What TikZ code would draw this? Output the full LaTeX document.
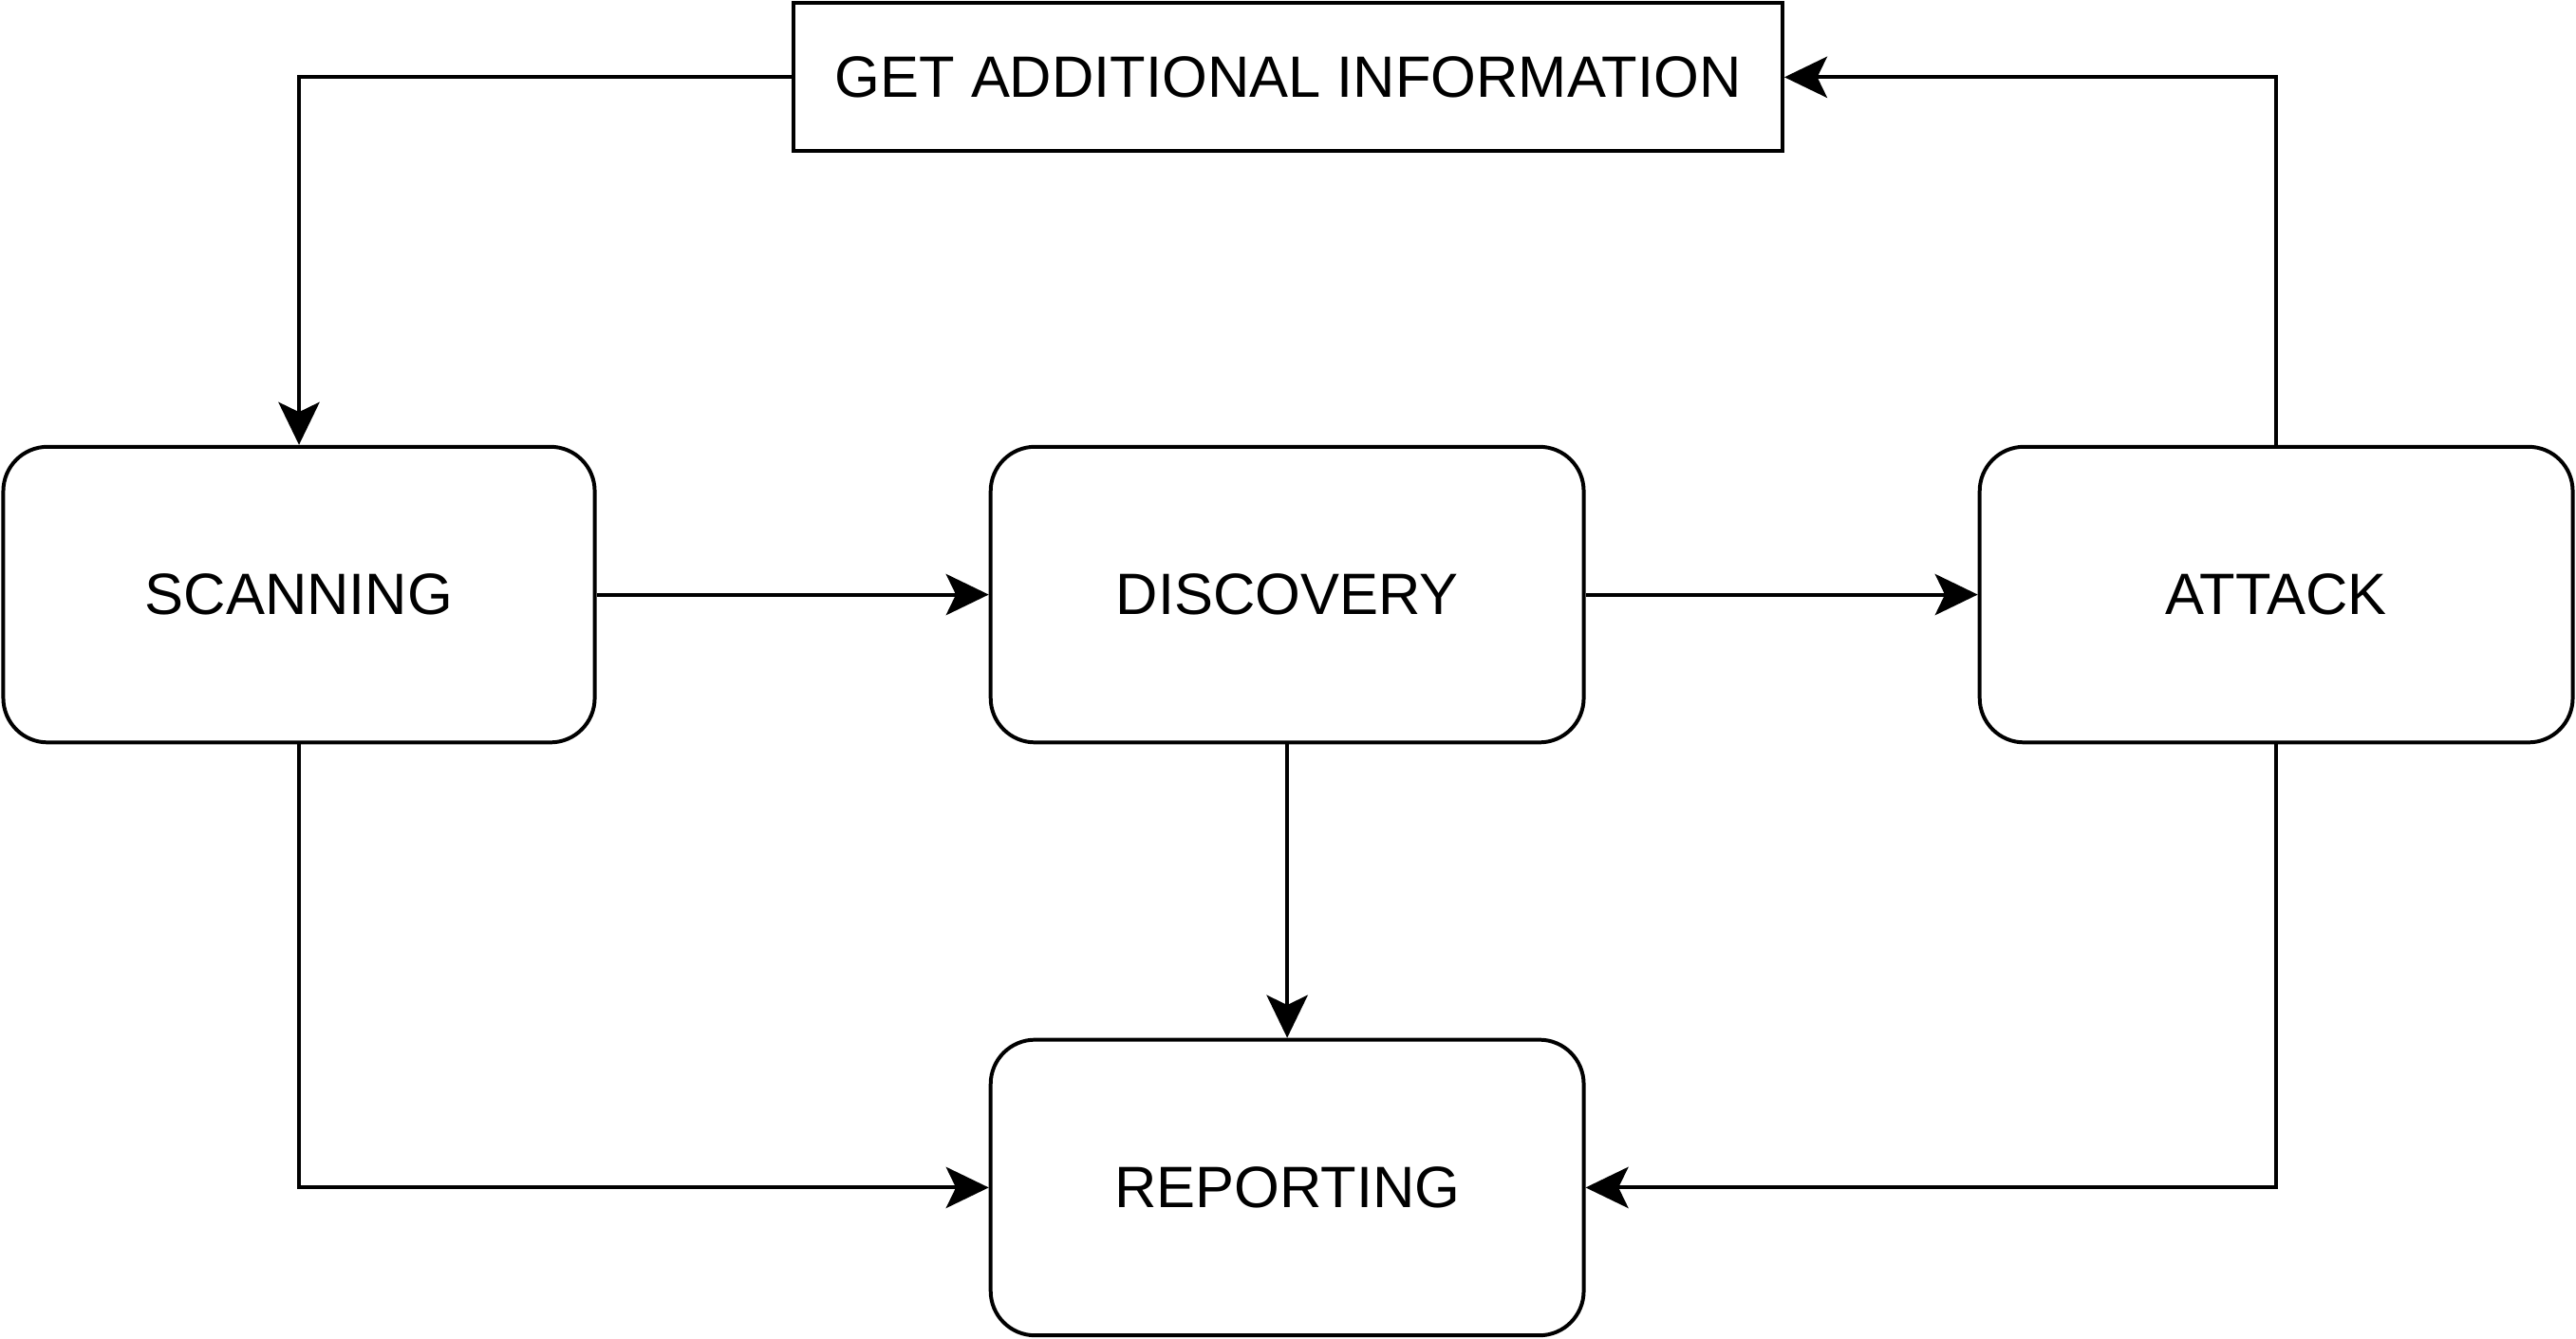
\documentclass[tikz,border=0pt]{standalone}
\usepackage{fontspec}
\setmainfont{Liberation Sans}
\usetikzlibrary{arrows.meta}
\begin{document}
\begin{tikzpicture}[x=1pt,y=1pt,
  stage/.style={draw=black, line width=2.3pt, rounded corners=27pt, minimum width=361pt, minimum height=180pt, inner sep=0pt, font=\fontsize{35.5}{40}\selectfont, fill=white},
  infobox/.style={draw=black, line width=2.3pt, minimum width=602pt, minimum height=90pt, inner sep=0pt, font=\fontsize{35.5}{40}\selectfont, fill=white},
  arr/.style={line width=2.3pt, -{Stealth[length=26pt, width=25pt, inset=6pt]}}]
\useasboundingbox (0,0) rectangle (1568,815);
\fill[white] (0,0) rectangle (1568,815);
\node[stage, minimum width=360pt] (scan) at (182,453) {SCANNING};
\node[stage] (disc) at (783.5,453) {DISCOVERY};
\node[stage] (att) at (1385.5,453) {ATTACK};
\node[stage] (rep) at (783.5,92) {REPORTING};
\node[infobox] (gai) at (784,768) {GET ADDITIONAL INFORMATION};
\draw[arr] (gai.west) -| (scan.north);
\draw[arr] (scan.east) -- (disc.west);
\draw[arr] (disc.east) -- (att.west);
\draw[arr] (att.north) |- (gai.east);
\draw[arr] (disc.south) -- (rep.north);
\draw[arr] (scan.south) |- (rep.west);
\draw[arr] (att.south) |- (rep.east);
\end{tikzpicture}
\end{document}
